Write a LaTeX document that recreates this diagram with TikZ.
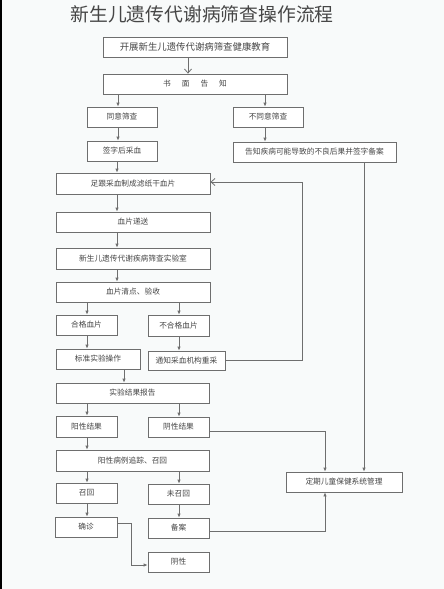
\documentclass[tikz,border=0pt]{standalone}
\usepackage{fontspec}
\newfontfamily\cjk{Noto Sans CJK SC}
\usetikzlibrary{arrows.meta}
\definecolor{bg}{RGB}{248,250,250}
\definecolor{ln}{RGB}{110,110,110}
\definecolor{tx}{RGB}{70,70,70}
\tikzset{
  box/.style={draw=ln, line width=0.8pt, fill=white, inner sep=0pt, text=tx, font=\cjk\fontsize{7.7}{8}\selectfont},
  arr/.style={draw=ln, line width=0.8pt, -{Latex[length=4pt,width=3.5pt]}},
  openarr/.style={draw=ln, line width=0.8pt, -{Straight Barb[length=4pt,width=7pt]}},
}
\begin{document}
\begin{tikzpicture}[x=1pt,y=-1pt]
\fill[bg] (0,0) rectangle (444,589);
\useasboundingbox (0,0) rectangle (444,589);
\fill[black] (0,0) rectangle (1.5,589);
\node[text=tx, font=\cjk\fontsize{18.8}{20}\selectfont] (title) at (202,14) {新生儿遗传代谢病筛查操作流程};

\node[box, minimum width=184pt, minimum height=20pt, font=\cjk\fontsize{9.4}{10}\selectfont] (edu) at (195,47) {开展新生儿遗传代谢病筛查健康教育};
\node[box, minimum width=184pt, minimum height=20pt] (notice) at (195,84) {书\hspace{11pt}面\hspace{11pt}告\hspace{11pt}知};
\node[box, minimum width=70pt, minimum height=20pt] (agree) at (122,117) {同意筛查};
\node[box, minimum width=70pt, minimum height=20pt] (disagree) at (268,117) {不同意筛查};
\node[box, minimum width=70pt, minimum height=20pt] (sign) at (122,151) {签字后采血};
\node[box, minimum width=163pt, minimum height=20pt] (inform) at (314.5,152) {告知疾病可能导致的不良后果并签字备案};
\node[box, minimum width=154pt, minimum height=21pt] (blood) at (133,183.5) {足跟采血制成滤纸干血片};
\node[box, minimum width=154pt, minimum height=20pt] (deliver) at (133,222) {血片递送};
\node[box, minimum width=154pt, minimum height=21pt] (lab) at (133,258.5) {新生儿遗传代谢疾病筛查实验室};
\node[box, minimum width=154pt, minimum height=20pt] (check) at (133,292) {血片清点、验收};
\node[box, minimum width=61pt, minimum height=20pt] (qual) at (86.5,325) {合格血片};
\node[box, minimum width=61pt, minimum height=21pt] (unqual) at (178.5,325.5) {不合格血片};
\node[box, minimum width=84pt, minimum height=20pt] (std) at (98,359) {标准实验操作};
\node[box, minimum width=77pt, minimum height=19pt] (notify) at (186.5,360.5) {通知采血机构重采};
\node[box, minimum width=153pt, minimum height=20pt] (report) at (132.5,393) {实验结果报告};
\node[box, minimum width=61pt, minimum height=21pt] (pos) at (86.5,426.5) {阳性结果};
\node[box, minimum width=61pt, minimum height=20pt] (neg) at (178.5,427) {阴性结果};
\node[box, minimum width=153pt, minimum height=21pt] (track) at (132.5,460.5) {阳性病例追踪、召回};
\node[box, minimum width=61pt, minimum height=20pt] (recall) at (86.5,493) {召回};
\node[box, minimum width=61pt, minimum height=20pt] (norecall) at (178.5,494) {未召回};
\node[box, minimum width=62pt, minimum height=20pt] (diag) at (86,527) {确诊};
\node[box, minimum width=61pt, minimum height=20pt] (file) at (178.5,528) {备案};
\node[box, minimum width=61pt, minimum height=20pt] (negf) at (178.5,562) {阴性};
\node[box, minimum width=116pt, minimum height=20pt] (child) at (344,482) {定期儿童保健系统管理};

\draw[openarr] (edu.south -| 188,0) -- (notice.north -| 188,0);
\draw[arr] (notice.south -| 118,0) -- (agree.north -| 118,0);
\draw[arr] (notice.south -| 265,0) -- (disagree.north -| 265,0);
\draw[arr] (agree.south -| 118,0) -- (sign.north -| 118,0);
\draw[arr] (disagree.south -| 265,0) -- (inform.north -| 265,0);
\draw[arr] (sign.south -| 117,0) -- (blood.north -| 117,0);
\draw[arr] (blood.south -| 117,0) -- (deliver.north -| 117,0);
\draw[arr] (deliver.south -| 117,0) -- (lab.north -| 117,0);
\draw[arr] (lab.south -| 117,0) -- (check.north -| 117,0);
\draw[arr] (check.south -| 87,0) -- (qual.north -| 87,0);
\draw[arr] (check.south -| 179,0) -- (unqual.north -| 179,0);
\draw[arr] (qual.south -| 87,0) -- (std.north -| 87,0);
\draw[arr] (unqual.south -| 179,0) -- (notify.north -| 179,0);
\draw[arr] (std.south -| 124,0) -- (report.north -| 124,0);
\draw[arr] (report.south -| 87,0) -- (pos.north -| 87,0);
\draw[arr] (report.south -| 179,0) -- (neg.north -| 179,0);
\draw[arr] (pos.south -| 87,0) -- (track.north -| 87,0);
\draw[arr] (track.south -| 87,0) -- (recall.north -| 87,0);
\draw[arr] (track.south -| 179,0) -- (norecall.north -| 179,0);
\draw[arr] (recall.south -| 87,0) -- (diag.north -| 87,0);
\draw[arr] (norecall.south -| 179,0) -- (file.north -| 179,0);
\draw[arr] (diag.east |- 0,523) -- (131,523) -- (131,565) -- (negf.west |- 0,565);
\draw[arr] (file.east |- 0,531) -- (325,531) -- (child.south -| 325,0);
\draw[arr] (neg.east |- 0,431) -- (325,431) -- (child.north -| 325,0);
\draw[arr] (inform.south -| 364,0) -- (child.north -| 364,0);
\draw[openarr] (notify.east) -| (302,182) -- (blood.east |- 0,182);
\end{tikzpicture}
\end{document}
